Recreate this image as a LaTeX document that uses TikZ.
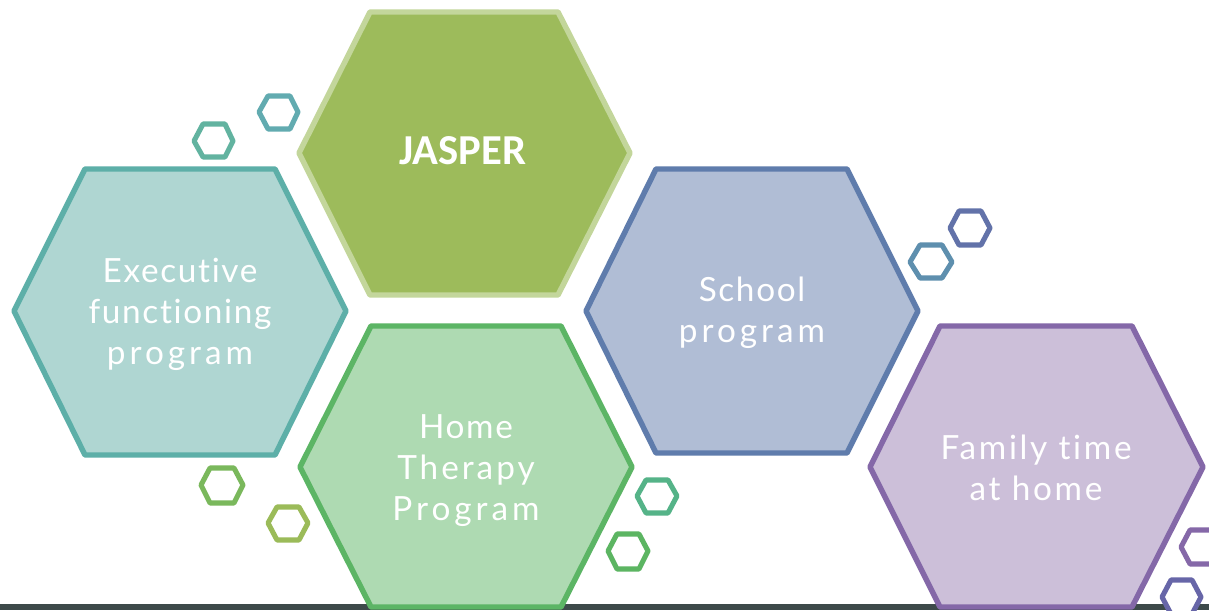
\documentclass[tikz,border=0pt]{standalone}
\usepackage{fontspec}
\setmainfont{Lato}[LetterSpace=5,Ligatures=NoCommon]
\newfontfamily\jasperfont{Carlito}[Scale=1]
\newcommand{\sprd}[2]{{\addfontfeatures{LetterSpace=#1}#2}}
\definecolor{barc}{HTML}{3D4A4A}
\definecolor{HexJ}{HTML}{C3D69B}
\definecolor{FillJ}{HTML}{9DBB5B}
\definecolor{HexE}{HTML}{5DAFA8}
\definecolor{FillE}{HTML}{AFD6D2}
\definecolor{HexS}{HTML}{5F7CAC}
\definecolor{FillS}{HTML}{B0BDD5}
\definecolor{HexH}{HTML}{5CB565}
\definecolor{FillH}{HTML}{AEDAB2}
\definecolor{HexF}{HTML}{8468A8}
\definecolor{FillF}{HTML}{CCBFD9}
\definecolor{SmA}{HTML}{62B3A0}
\definecolor{SmB}{HTML}{62ABB0}
\definecolor{SmC}{HTML}{5E8FAE}
\definecolor{SmD}{HTML}{6272A9}
\definecolor{SmE}{HTML}{7AB85C}
\definecolor{SmF}{HTML}{9BBB59}
\definecolor{SmG}{HTML}{55B388}
\definecolor{SmH}{HTML}{5CB562}
\definecolor{SmI}{HTML}{8568A8}
\definecolor{SmJ}{HTML}{6766A8}
\tikzset{
  x=0.75pt,y=-0.75pt,
  bighex/.style={line width=4.1pt,line join=round},
  smallhex/.style={line width=3.8pt,line join=round,fill=white},
  hexlabel/.style={text=white,align=center,inner sep=0pt,font=\fontsize{25pt}{30.8pt}\selectfont},
  jasperlabel/.style={text=white,inner sep=0pt,font=\jasperfont\bfseries\fontsize{32pt}{38pt}\selectfont},
}
% left, right, cy, top, bottom, topleft, topright
\newcommand{\hexpath}[7]{(#1,#3) -- (#6,#4) -- (#7,#4) -- (#2,#3) -- (#7,#5) -- (#6,#5) -- cycle}
\begin{document}
\begin{tikzpicture}
\useasboundingbox (0,0) rectangle (1209,610);
\clip (0,0) rectangle (1209,610);
\fill[white] (0,0) rectangle (1209,610);
\fill[barc] (0,604) rectangle (1209,610);
% large hexagons
\draw[bighex,draw=HexJ,fill=FillJ] \hexpath{299}{630}{153}{12}{295}{370}{558};
\draw[bighex,draw=HexE,fill=FillE] \hexpath{14}{346}{311}{169}{455}{85}{275};
\draw[bighex,draw=HexS,fill=FillS] \hexpath{586}{918}{311}{169}{453}{656}{847};
\draw[bighex,draw=HexH,fill=FillH] \hexpath{300}{632}{467}{326}{607}{371}{561};
\draw[bighex,draw=HexF,fill=FillF] \hexpath{870}{1203}{467}{326}{607}{940}{1132};
% small hexagons
\draw[smallhex,draw=SmA] \hexpath{194}{233}{141}{124}{157}{203}{225};
\draw[smallhex,draw=SmB] \hexpath{259}{298}{112}{96}{129}{268}{290};
\draw[smallhex,draw=SmC] \hexpath{910}{952}{262}{245}{278}{920}{942};
\draw[smallhex,draw=SmD] \hexpath{950}{990}{228}{211}{245}{959}{981};
\draw[smallhex,draw=SmE] \hexpath{201}{243}{485}{468}{503}{210}{234};
\draw[smallhex,draw=SmF] \hexpath{268}{308}{523}{507}{540}{277}{299};
\draw[smallhex,draw=SmG] \hexpath{637}{677}{496}{480}{513}{646}{668};
\draw[smallhex,draw=SmH] \hexpath{608}{648}{551}{534}{569}{617}{639};
\draw[smallhex,draw=SmI] \hexpath{1181}{1221}{547}{530}{564}{1190}{1212};
\draw[smallhex,draw=SmJ] \hexpath{1162}{1201}{597}{580}{614}{1171}{1192};
% labels
\node[jasperlabel] (jasper) at (463,151) {JASPER};
\node[hexlabel] (exec) at (180,314) {Executive\\functioning\\\sprd{12}{program}};
\node[hexlabel] (school) at (752,313) {School\\\sprd{12}{program}};
\node[hexlabel] (home) at (466,471) {Home\\\sprd{9}{Therapy}\\\sprd{12}{Program}};
\node[hexlabel] (family) at (1036,468) {\sprd{8}{Family time}\\\sprd{8}{at home}};
\end{tikzpicture}
\end{document}
